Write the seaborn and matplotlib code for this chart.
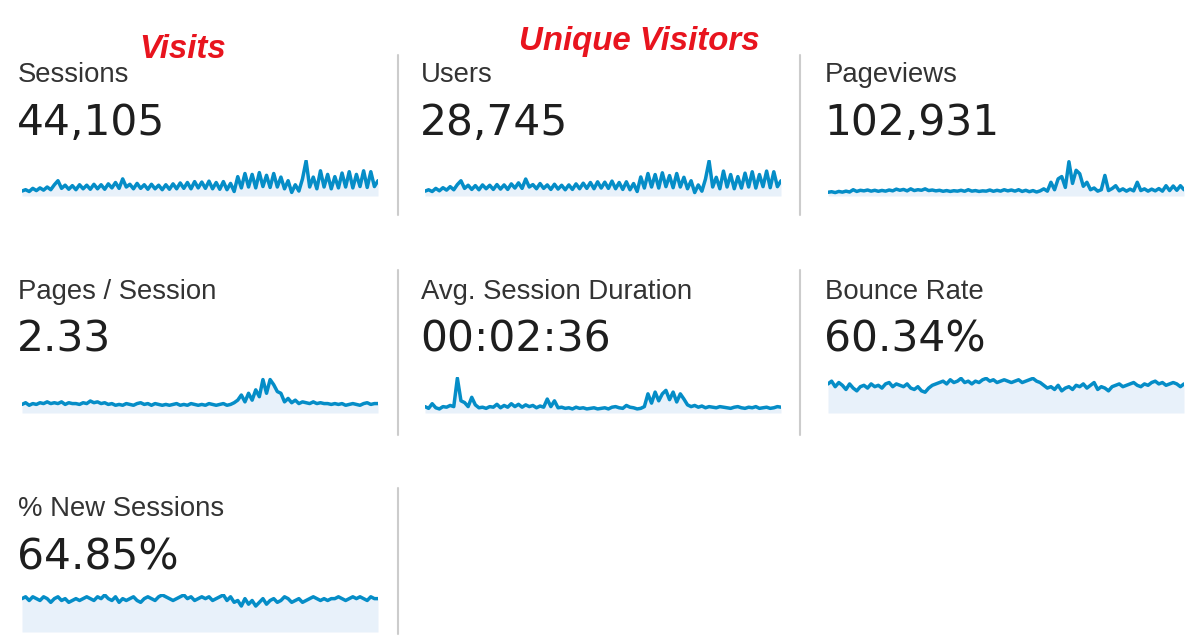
import matplotlib
matplotlib.use("Agg")
import matplotlib.pyplot as plt
import seaborn as sns
import numpy as np

sns.set_style("white")

# metric names and headline values
labels = ["Sessions", "Users", "Pageviews",
          "Pages / Session", "Avg. Session Duration", "Bounce Rate",
          "% New Sessions"]
totals = ["44,105", "28,745", "102,931",
          "2.33", "00:02:36", "60.34%",
          "64.85%"]

# daily-ish sparkline values
sessions = [330, 360, 320, 390, 340, 400, 350, 420, 360, 470,
            560, 390, 460, 370, 450, 360, 470, 380, 460, 370,
            480, 380, 470, 370, 490, 400, 520, 390, 600, 420,
            480, 380, 500, 390, 470, 370, 480, 380, 460, 360,
            470, 370, 490, 380, 510, 390, 520, 380, 540, 400,
            530, 390, 550, 380, 520, 370, 540, 360, 500, 320,
            650, 400, 720, 420, 700, 400, 740, 430, 680, 410,
            720, 420, 640, 380, 560, 300, 470, 330, 600, 1000,
            420, 640, 380, 780, 420, 700, 380, 650, 400, 730,
            420, 760, 400, 700, 430, 780, 410, 760, 430, 560]

users = [215, 235, 210, 255, 220, 265, 230, 280, 235, 310,
         365, 255, 300, 240, 295, 235, 305, 250, 300, 240,
         310, 245, 305, 240, 320, 260, 335, 255, 390, 275,
         310, 250, 325, 255, 305, 240, 315, 245, 300, 235,
         305, 240, 320, 250, 330, 255, 340, 250, 350, 260,
         345, 255, 360, 250, 340, 240, 350, 235, 325, 210,
         420, 260, 470, 275, 455, 260, 480, 280, 440, 265,
         470, 275, 415, 250, 365, 195, 305, 215, 390, 650,
         275, 415, 250, 505, 275, 455, 250, 425, 260, 475,
         275, 495, 260, 455, 280, 505, 265, 495, 280, 365]

pageviews = [210, 230, 200, 240, 215, 250, 220, 300, 240, 280,
             260, 290, 250, 280, 245, 275, 250, 290, 260, 320,
             280, 310, 260, 330, 270, 300, 280, 330, 270, 290,
             260, 280, 245, 270, 240, 265, 250, 280, 245, 300,
             250, 270, 240, 260, 250, 290, 245, 280, 250, 300,
             260, 290, 250, 300, 240, 280, 230, 270, 220, 260,
             330, 250, 560, 300, 680, 760, 380, 1280, 520, 980,
             860, 420, 560, 300, 360, 250, 300, 800, 270, 340,
             440, 260, 330, 250, 320, 260, 560, 270, 330, 250,
             320, 260, 340, 250, 440, 270, 430, 280, 440, 300]

pages_per_session = [2.25, 2.35, 2.2, 2.3, 2.25, 2.35, 2.3, 2.4, 2.3, 2.35,
                     2.3, 2.4, 2.25, 2.35, 2.3, 2.3, 2.25, 2.35, 2.3, 2.45,
                     2.35, 2.4, 2.3, 2.35, 2.25, 2.3, 2.2, 2.25, 2.2, 2.3,
                     2.25, 2.2, 2.3, 2.35, 2.25, 2.3, 2.2, 2.3, 2.25, 2.2,
                     2.25, 2.2, 2.25, 2.3, 2.2, 2.25, 2.2, 2.3, 2.25, 2.2,
                     2.25, 2.2, 2.3, 2.25, 2.2, 2.25, 2.3, 2.2, 2.25, 2.35,
                     2.5, 2.8, 2.4, 2.9, 2.5, 3.1, 2.7, 3.7, 2.9, 3.7,
                     3.4, 3.0, 2.9, 2.4, 2.6, 2.35, 2.5, 2.3, 2.4, 2.35,
                     2.3, 2.4, 2.3, 2.35, 2.3, 2.3, 2.25, 2.3, 2.25, 2.3,
                     2.2, 2.25, 2.3, 2.25, 2.2, 2.3, 2.35, 2.25, 2.3, 2.3]

# seconds
avg_duration = [150, 135, 175, 140, 130, 150, 145, 160, 150, 395,
                200, 185, 150, 230, 165, 140, 145, 135, 150, 145,
                170, 140, 160, 145, 175, 150, 170, 145, 165, 150,
                160, 140, 155, 145, 215, 150, 200, 140, 145, 135,
                140, 130, 145, 135, 140, 130, 135, 140, 130, 135,
                140, 130, 145, 150, 140, 135, 160, 145, 140, 130,
                135, 150, 260, 180, 275, 200, 260, 290, 210, 275,
                190, 260, 215, 165, 150, 160, 145, 155, 140, 150,
                145, 140, 150, 145, 140, 135, 145, 150, 140, 135,
                145, 140, 150, 135, 140, 145, 135, 140, 150, 145]

bounce_rate = [61, 63, 59, 62, 60, 57, 61, 58, 56, 59,
               60, 58, 61, 59, 60, 58, 61, 62, 59, 61,
               60, 59, 61, 58, 57, 59, 56, 55, 58, 60,
               61, 62, 63, 61, 64, 62, 63, 65, 62, 63,
               61, 63, 62, 64, 65, 63, 64, 62, 63, 64,
               63, 62, 63, 64, 62, 63, 64, 65, 63, 62,
               60, 58, 59, 57, 60, 56, 58, 59, 57, 60,
               59, 61, 58, 60, 62, 57, 59, 58, 56, 59,
               60, 61, 59, 60, 61, 62, 60, 59, 61, 60,
               62, 63, 61, 62, 60, 61, 62, 61, 59, 61]

new_sessions = [65, 66, 64, 66, 65, 64, 66, 65, 63, 65,
                66, 64, 65, 63, 64, 65, 64, 65, 66, 65,
                64, 66, 65, 67, 65, 64, 66, 63, 65, 64,
                65, 66, 64, 63, 65, 66, 65, 64, 66, 67,
                66, 65, 64, 65, 66, 67, 65, 66, 64, 65,
                66, 65, 66, 64, 65, 66, 67, 64, 66, 63,
                64, 61, 65, 62, 64, 61, 63, 65, 62, 64,
                65, 63, 64, 66, 65, 63, 64, 65, 63, 64,
                65, 66, 65, 64, 65, 64, 65, 65, 66, 65,
                64, 65, 66, 65, 66, 65, 64, 66, 65, 65]

series = [sessions, users, pageviews,
          pages_per_session, avg_duration, bounce_rate,
          new_sessions]

# y-limits per sparkline so the line sits like in the dashboard
ylims = [(220, 1020), (145, 665), (80, 1340),
         (1.75, 3.85), (95, 405), (40, 66),
         (47, 67.5)]

W, H = 1200, 640
LINE = "#058dc7"
FILL = "#e8f1fa"

fig = plt.figure(figsize=(12, 6.4), dpi=100)
fig.patch.set_facecolor("white")

# pixel-coordinate canvas for the text and dividers
bg = fig.add_axes([0, 0, 1, 1])
bg.set_xlim(0, W)
bg.set_ylim(H, 0)
bg.axis("off")

col_x = [18, 421, 825]
row_y = [0, 217, 434]
spark_x = [22, 425, 828]
spark_w = 356
spark_top = [160, 377, 594]
spark_bot = [196, 413, 632]

for k, (lab, tot, vals, yl) in enumerate(zip(labels, totals, series, ylims)):
    r, c = divmod(k, 3)
    x0 = col_x[c]
    bg.text(x0, 82 + row_y[r], lab, fontsize=19.8, color="#333333",
            family="Liberation Sans", va="baseline", ha="left")
    bg.text(x0 - 1, 135 + row_y[r], tot, fontsize=30.5, color="#1e1e1e",
            family="DejaVu Sans", va="baseline", ha="left")

    # sparkline
    top, bot = spark_top[r], spark_bot[r]
    ax = fig.add_axes([spark_x[c] / W, 1 - bot / H, spark_w / W, (bot - top) / H])
    xs = np.arange(len(vals))
    ax.fill_between(xs, vals, yl[0], color=FILL, linewidth=0)
    sns.lineplot(x=xs, y=vals, ax=ax, color=LINE, linewidth=2.5)
    ax.set_xlim(0, len(vals) - 1)
    ax.set_ylim(*yl)
    ax.axis("off")

# vertical dividers
div = "#cccccc"
bg.plot([398, 398], [55, 215], color=div, lw=1.5)
bg.plot([398, 398], [270, 435], color=div, lw=1.5)
bg.plot([398, 398], [488, 634], color=div, lw=1.5)
bg.plot([800, 800], [55, 215], color=div, lw=1.5)
bg.plot([800, 800], [270, 435], color=div, lw=1.5)

# red annotations
red = "#e8141e"
bg.text(139, 58, "Visits", fontsize=23.8, color=red, family="Liberation Sans",
        fontweight="bold", fontstyle="italic", va="baseline", ha="left")
bg.text(519, 50, "Unique Visitors", fontsize=23.8, color=red, family="Liberation Sans",
        fontweight="bold", fontstyle="italic", va="baseline", ha="left")

fig.savefig("out.png", dpi=100)
